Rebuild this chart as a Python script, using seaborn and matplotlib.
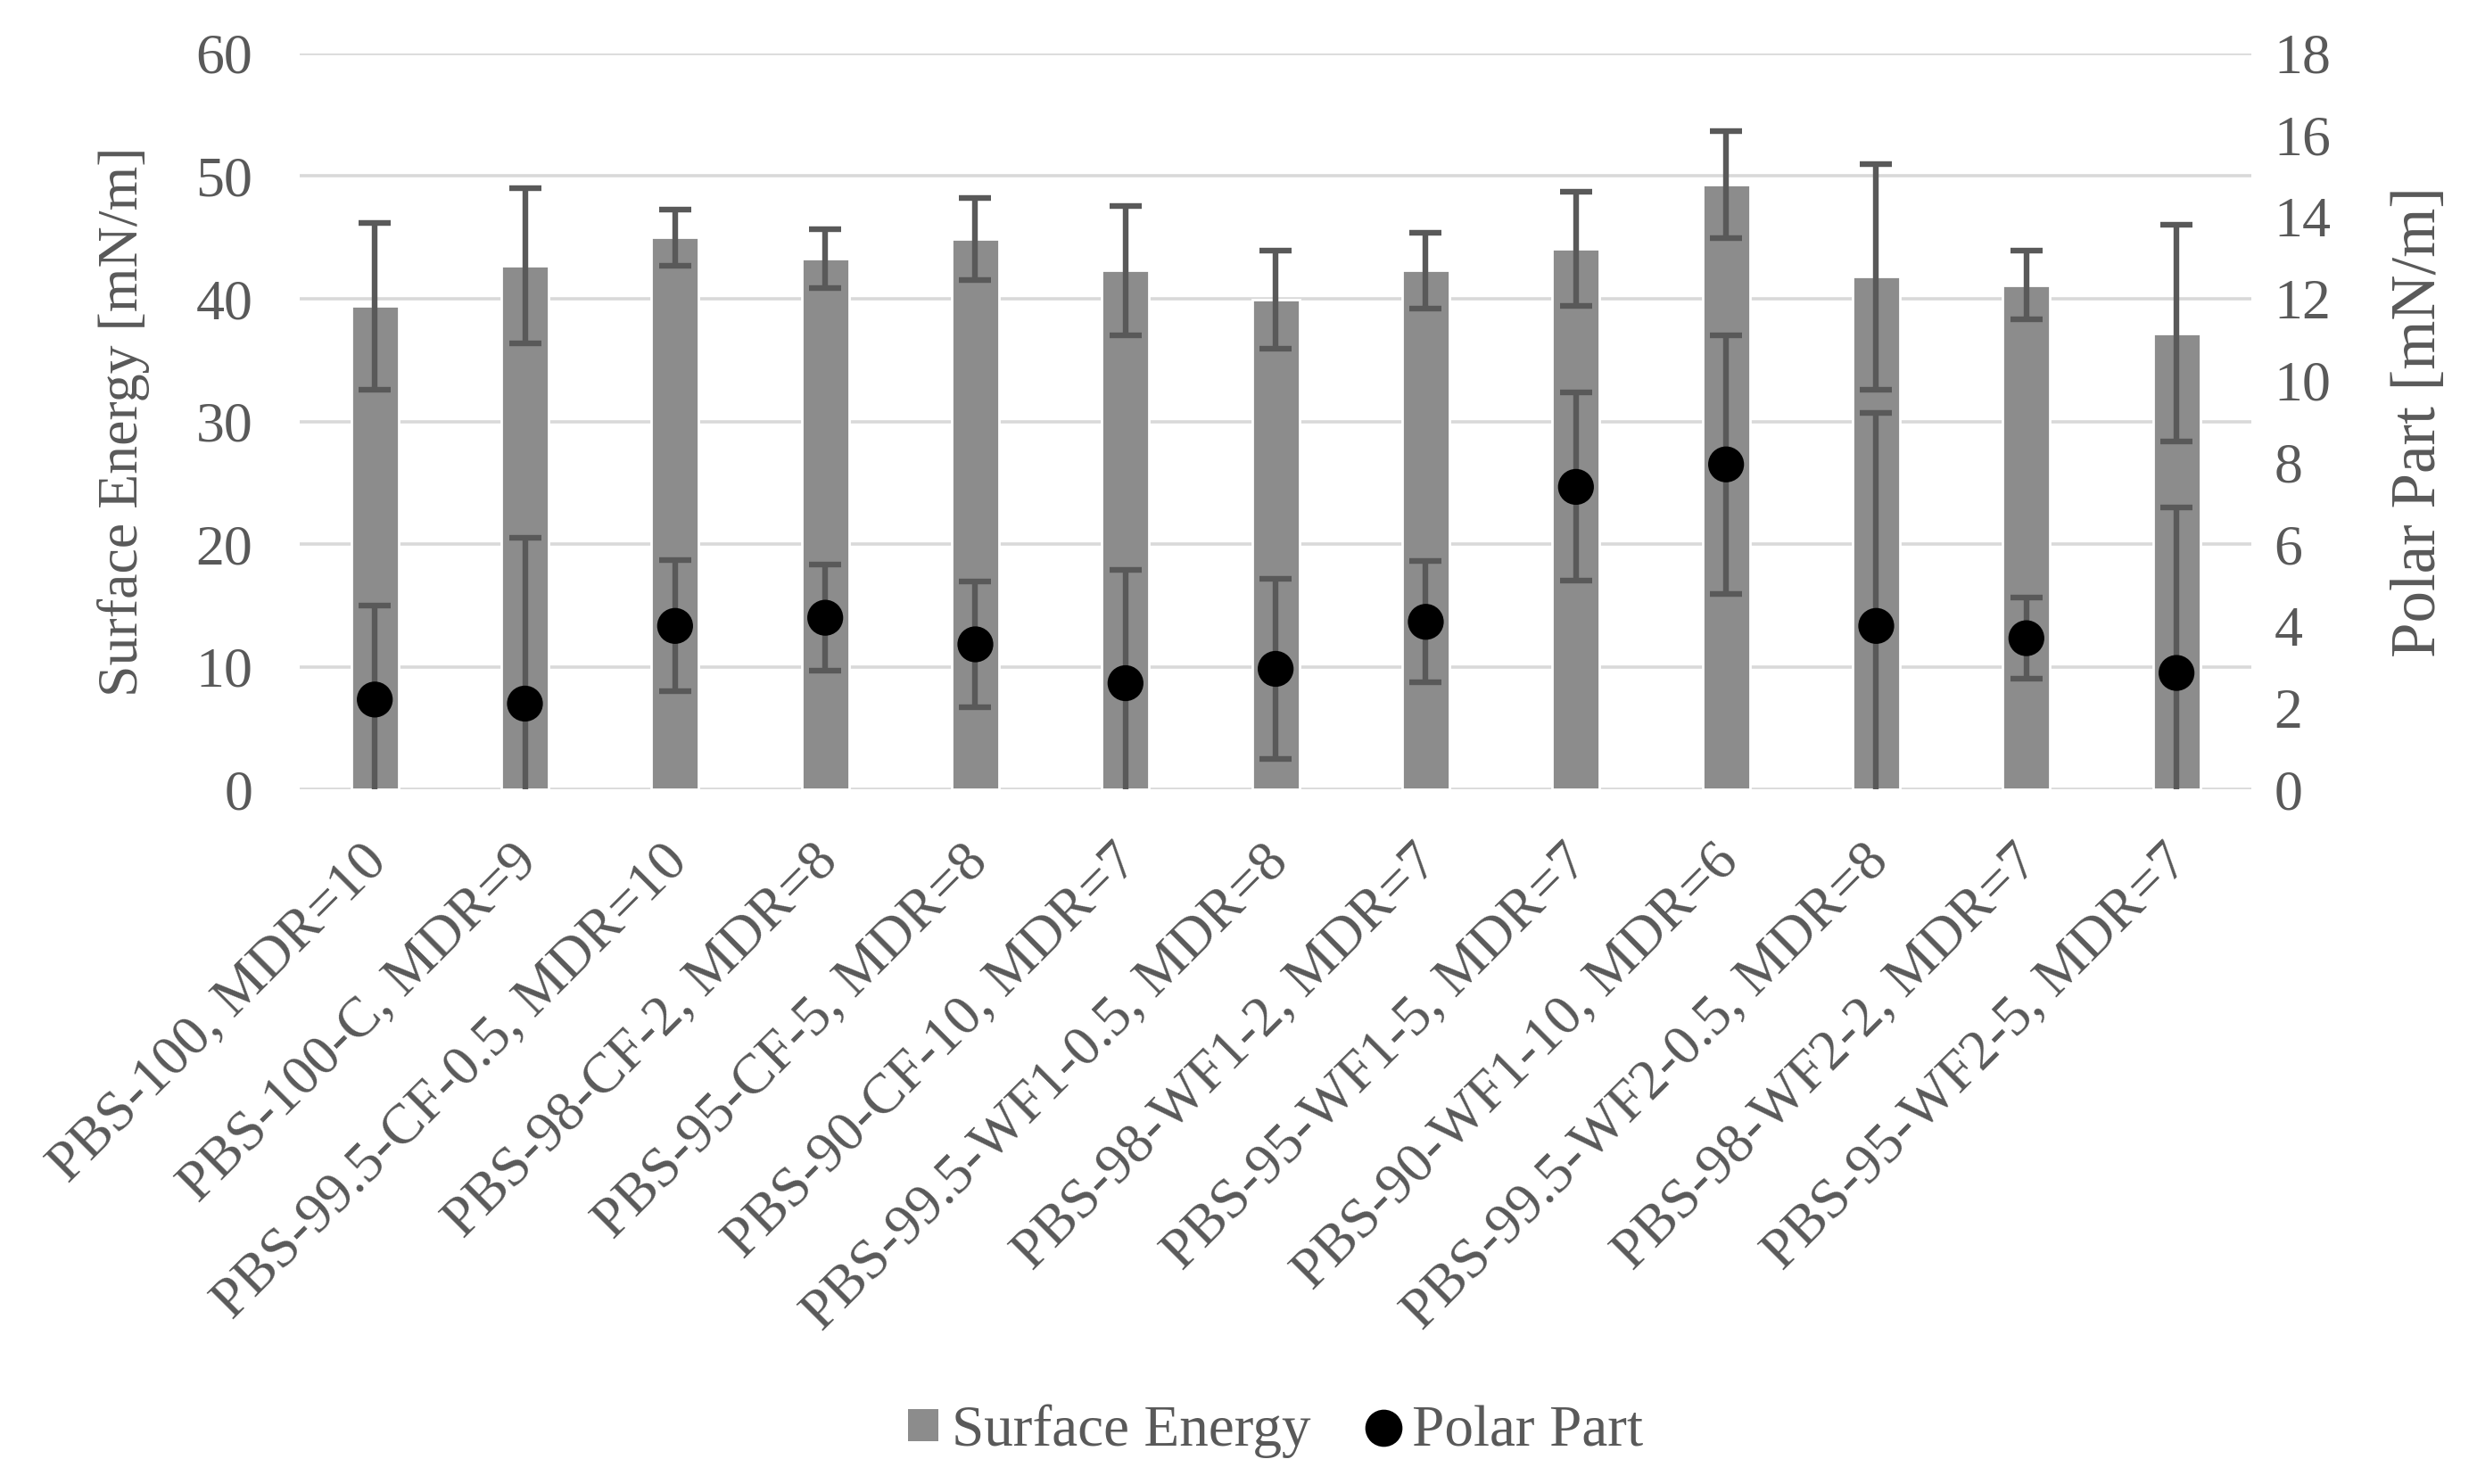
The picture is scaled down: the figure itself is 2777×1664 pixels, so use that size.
"""Surface energy and polar part per PBS sample (bar + dot chart with error bars)."""

import matplotlib
matplotlib.use("Agg")
import matplotlib.pyplot as plt
import matplotlib.transforms as mtransforms
from matplotlib.lines import Line2D
from matplotlib.patches import Patch
import numpy as np
import pandas as pd
import seaborn as sns

samples = [
    "PBS-100, MDR=10",
    "PBS-100-C, MDR=9",
    "PBS-99.5-CF-0.5, MDR=10",
    "PBS-98-CF-2, MDR=8",
    "PBS-95-CF-5, MDR=8",
    "PBS-90-CF-10, MDR=7",
    "PBS-99.5-WF1-0.5, MDR=8",
    "PBS-98-WF1-2, MDR=7",
    "PBS-95-WF1-5, MDR=7",
    "PBS-90-WF1-10, MDR=6",
    "PBS-99.5-WF2-0.5, MDR=8",
    "PBS-98-WF2-2, MDR=7",
    "PBS-95-WF2-5, MDR=7",
]
surface_energy = [39.4, 42.7, 45.0, 43.3, 44.9, 42.3, 39.9, 42.3, 44.1, 49.3, 41.8, 41.1, 37.2]
surface_err = [6.8, 6.3, 2.3, 2.4, 3.35, 5.25, 4.0, 3.1, 4.65, 4.35, 9.2, 2.8, 8.8]
polar_part = [2.2, 2.1, 4.0, 4.2, 3.55, 2.6, 2.95, 4.1, 7.4, 7.95, 4.0, 3.7, 2.85]
polar_err = [2.3, 4.05, 1.6, 1.3, 1.53, 2.76, 2.2, 1.48, 2.3, 3.16, 5.2, 1.0, 4.05]

BAR = "#8c8c8c"
ERR = "#595959"
TEXT = "#595959"
GRID = "#d9d9d9"

sns.set_theme(style="white")
plt.rcParams["font.family"] = ["Liberation Serif", "DejaVu Serif"]
plt.rcParams["text.color"] = TEXT
plt.rcParams["axes.labelcolor"] = TEXT
plt.rcParams["xtick.color"] = TEXT
plt.rcParams["ytick.color"] = TEXT

df = pd.DataFrame({"sample": samples, "surface": surface_energy, "surface_err": surface_err,
                   "polar": polar_part, "polar_err": polar_err})

fig = plt.figure(figsize=(13.885, 8.32), dpi=200)
ax = fig.add_axes([0.121, 0.468, 0.788, 0.496])

sns.barplot(data=df, x="sample", y="surface", color=BAR, saturation=1, width=0.315,
            errorbar=None, ax=ax, zorder=2)
pos = np.arange(len(df))
ax.errorbar(pos, df["surface"], yerr=df["surface_err"], fmt="none", ecolor=ERR,
            elinewidth=2.3, capsize=6.5, capthick=2.3, zorder=3)

ax.set_ylim(0, 60)
ax.set_yticks(np.arange(0, 61, 10))
ax.set_xlim(-0.5, len(df) - 0.5)
ax.set_axisbelow(True)
ax.yaxis.grid(True, color=GRID, linewidth=1.3)
for s in ax.spines.values():
    s.set_visible(False)
ax.set_xlabel("")
ax.set_ylabel("Surface Energy [mN/m]", fontsize=23)
ax.yaxis.set_label_coords(-0.077, 0.5)
ax.tick_params(axis="y", length=0, pad=19, labelsize=23)
ax.tick_params(axis="x", length=0, pad=26, labelsize=23)
ax.set_xticks(pos)
ax.set_xticklabels(samples, rotation=45, ha="right", va="center", rotation_mode="anchor")
shift = mtransforms.ScaledTranslation(0.025, 0, fig.dpi_scale_trans)
for lab in ax.get_xticklabels():
    lab.set_transform(lab.get_transform() + shift)

ax2 = ax.twinx()
ax2.errorbar(pos, df["polar"], yerr=df["polar_err"], fmt="none", ecolor=ERR,
             elinewidth=2.3, capsize=6.5, capthick=2.3, zorder=3)
sns.scatterplot(x=pos, y=df["polar"], ax=ax2, color="black", s=210, edgecolor="none",
                zorder=4, legend=False)
ax2.set_ylim(0, 18)
ax2.set_yticks(np.arange(0, 19, 2))
ax2.grid(False)
for s in ax2.spines.values():
    s.set_visible(False)
ax2.set_ylabel("Polar Part [mN/m]", fontsize=25.5)
ax2.yaxis.set_label_coords(1.071, 0.5)
ax2.tick_params(axis="y", length=0, pad=9, labelsize=23)

handles = [
    Patch(facecolor=BAR, edgecolor="none", label="Surface Energy"),
    Line2D([], [], linestyle="none", marker="o", markersize=14, color="black", label="Polar Part"),
]
fig.legend(handles=handles, loc="center", bbox_to_anchor=(0.515, 0.0355), ncol=2, frameon=False,
           fontsize=23.5, handlelength=0.52, handleheight=0.48, handletextpad=0.22,
           columnspacing=1.0)

fig.savefig("out.png", dpi=200)
